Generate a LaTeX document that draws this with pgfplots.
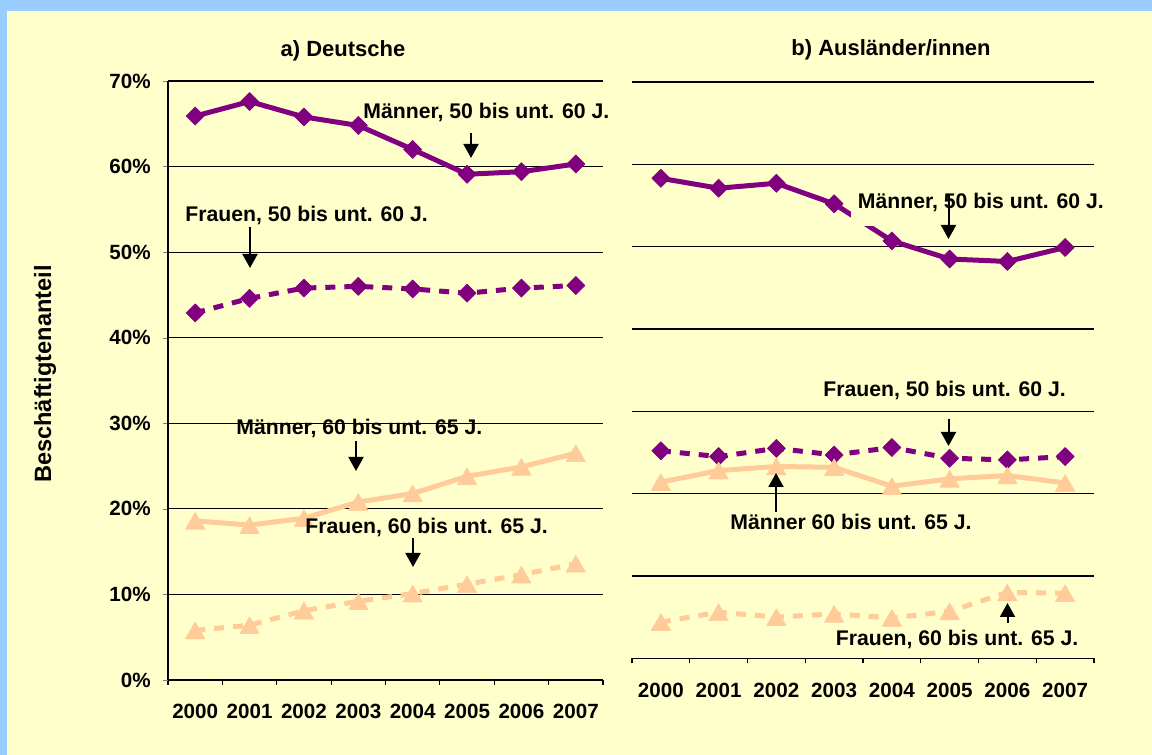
\documentclass[border=0pt]{standalone}
\usepackage{fontspec}
\setmainfont{Liberation Sans}
\usepackage{pgfplots}
\pgfplotsset{compat=1.18}
\usetikzlibrary{arrows.meta}
\definecolor{bgyellow}{HTML}{FFFFCC}
\definecolor{bgblue}{HTML}{99CCFF}
\definecolor{lila}{HTML}{800080}
\definecolor{peach}{HTML}{FFCC99}
\newcommand{\tfont}{\fontsize{10.3}{12}\selectfont\bfseries}
\newcommand{\afont}{\fontsize{10.6}{12}\selectfont\bfseries}
\pgfplotsset{
  panel/.style={
    scale only axis, clip=false,
    xmin=0, xmax=8, ymin=0, ymax=70,
    axis x line*=bottom, axis y line*=left,
    axis line style={black, line width=0.6pt, -},
    xtick={0.5,1.5,...,7.5},
    xticklabels={2000,2001,2002,2003,2004,2005,2006,2007},
    minor xtick={0,1,...,8},
    major x tick style={draw=none},
    minor x tick style={black, line width=0.6pt},
    minor tick length=2.5pt, major tick length=2.5pt,
    tick align=outside,
    ytick={0,10,...,70},
    ymajorgrids, major grid style={black, line width=0.6pt},
    xticklabel style={font=\tfont, anchor=base, inner sep=0pt, yshift=-17pt},
    yticklabel style={font=\tfont, anchor=east, inner sep=0pt, xshift=-6pt},
  },
  m50/.style={lila, line width=2.5pt, line join=round, mark=square*, mark size=3.2pt, mark options={solid, rotate=45, line width=0.3pt}},
  f50/.style={m50, dash pattern=on 5pt off 4.5pt},
  m60/.style={peach, line width=2.5pt, line join=round, mark=triangle*, mark size=5.6pt, mark options={solid, yshift=-1.4pt, line width=0.3pt}},
  f60/.style={m60, dash pattern=on 5pt off 4.5pt},
}
\begin{document}
\begin{tikzpicture}
\begin{scope}[x=0.5pt, y=-0.5pt, shift={(0pt,377.5pt)}]
  \fill[bgblue] (0,0) rectangle (1152,755);
  \fill[bgyellow] (7,11) rectangle (1152,755);
\end{scope}

\begin{axis}[panel, at={(84pt,37.5pt)}, anchor=south west, width=217.5pt, height=299.5pt,
  yticklabels={0\%,10\%,20\%,30\%,40\%,50\%,60\%,70\%}]
\addplot[m50] coordinates {(0.5,65.9)(1.5,67.6)(2.5,65.8)(3.5,64.8)(4.5,62.0)(5.5,59.1)(6.5,59.4)(7.5,60.3)};
\addplot[f50] coordinates {(0.5,42.9)(1.5,44.6)(2.5,45.8)(3.5,46.0)(4.5,45.7)(5.5,45.2)(6.5,45.8)(7.5,46.1)};
\addplot[m60] coordinates {(0.5,18.6)(1.5,18.1)(2.5,18.9)(3.5,20.8)(4.5,21.8)(5.5,23.8)(6.5,24.9)(7.5,26.5)};
\addplot[f60] coordinates {(0.5,5.8)(1.5,6.4)(2.5,8.1)(3.5,9.2)(4.5,10.1)(5.5,11.2)(6.5,12.3)(7.5,13.6)};
\end{axis}

\begin{axis}[panel, at={(316pt,48.35pt)}, anchor=south west, width=231pt, height=288.15pt,
  y axis line style={draw=none}, major y tick style={draw=none}, yticklabels={,,,,,,,}]
\addplot[m50] coordinates {(0.5,58.3)(1.5,57.1)(2.5,57.7)(3.5,55.2)(4.5,50.7)(5.5,48.5)(6.5,48.2)(7.5,49.9)};
\addplot[f50] coordinates {(0.5,25.2)(1.5,24.5)(2.5,25.5)(3.5,24.7)(4.5,25.6)(5.5,24.3)(6.5,24.1)(7.5,24.5)};
\addplot[m60] coordinates {(0.5,21.4)(1.5,22.8)(2.5,23.3)(3.5,23.2)(4.5,20.9)(5.5,21.8)(6.5,22.2)(7.5,21.3)};
\addplot[f60] coordinates {(0.5,4.4)(1.5,5.6)(2.5,5.0)(3.5,5.4)(4.5,4.9)(5.5,5.7)(6.5,8.0)(7.5,7.9)};
\end{axis}

\begin{scope}[x=0.5pt, y=-0.5pt, shift={(0pt,377.5pt)}]
  % titles
  \node[anchor=base, inner sep=0pt, font=\fontsize{11}{13}\selectfont\bfseries] at (343,57) {a) Deutsche};
  \node[anchor=base, inner sep=0pt, font=\fontsize{11}{13}\selectfont\bfseries] at (891,56) {b) Ausländer/innen};
  \node[rotate=90, anchor=base, inner sep=0pt, font=\fontsize{11.8}{13}\selectfont\bfseries] at (51,374) {Beschäftigtenanteil};
  % left annotations
  \node[anchor=base west, inner sep=0pt, font=\afont] at (363,119) {Männer, 50 bis unt. 60 J.};
  \node[anchor=base west, inner sep=0pt, font=\afont] at (185,222) {Frauen, 50 bis unt. 60 J.};
  \node[anchor=base west, inner sep=0pt, font=\afont] at (236,435) {Männer, 60 bis unt. 65 J.};
  \node[anchor=base west, inner sep=0pt, font=\afont] at (305,534) {Frauen, 60 bis unt. 65 J.};
  % right annotations
  \fill[bgyellow] (851,180) rectangle (1108,226);
  \node[anchor=base west, inner sep=0pt, font=\afont] at (857.5,209) {Männer, 50 bis unt. 60 J.};
  \node[anchor=base west, inner sep=0pt, font=\afont] at (823,397) {Frauen, 50 bis unt. 60 J.};
  \node[anchor=base west, inner sep=0pt, font=\afont] at (730,530) {Männer 60 bis unt. 65 J.};
  \node[anchor=base west, inner sep=0pt, font=\afont] at (835.5,646) {Frauen, 60 bis unt. 65 J.};
  % arrows
  \begin{scope}[black, line width=1pt, -{Triangle[width=7.5pt,length=7pt]}]
    \draw (471,133) -- (471,158);
    \draw (250,227) -- (250,268);
    \draw (356,441) -- (356,471);
    \draw (413,538) -- (413,567);
    \draw (948.5,194) -- (948.5,239);
    \draw (948.5,419) -- (948.5,446);
    \draw (776,512) -- (776,473);
    \draw (1007.5,623) -- (1007.5,603);
  \end{scope}
\end{scope}
\end{tikzpicture}
\end{document}
